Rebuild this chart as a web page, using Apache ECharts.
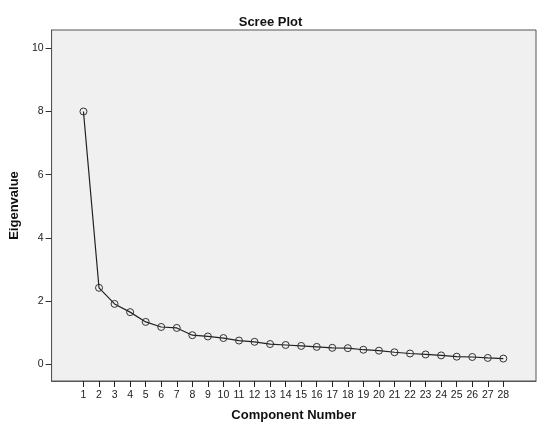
<!DOCTYPE html>
<html lang="en">
<head>
    <meta charset="UTF-8">
    <title>Scree Plot</title>
    <script src="https://cdn.jsdelivr.net/npm/echarts@6/dist/echarts.min.js"></script>
    <style>
        html, body { margin: 0; padding: 0; background: #fff; }
    </style>
</head>
<body>
<div id="main" style="width: 541px;height:433px;"></div>
<script type="text/javascript">
    // component numbers and eigenvalues
    var components = [1, 2, 3, 4, 5, 6, 7, 8, 9, 10, 11, 12, 13, 14,
        15, 16, 17, 18, 19, 20, 21, 22, 23, 24, 25, 26, 27, 28];
    var eigenvalues = [8.00, 2.42, 1.91, 1.65, 1.34, 1.18, 1.15, 0.92, 0.88, 0.83,
        0.75, 0.71, 0.64, 0.61, 0.58, 0.55, 0.52, 0.51, 0.46, 0.43,
        0.38, 0.34, 0.31, 0.28, 0.24, 0.23, 0.20, 0.18];
    var yTicks = [0, 2, 4, 6, 8, 10];

    var font = 'Liberation Sans, Arial, sans-serif';
    var yMin = -0.53, yMax = 10.58;

    var points = components.map(function (c, i) { return [c, eigenvalues[i]]; });

    var myChart = echarts.init(document.getElementById('main'));

    var option = {
        backgroundColor: '#ffffff',
        animation: false,
        title: {
            text: 'Scree Plot',
            left: 'center',
            top: 11,
            textStyle: { fontFamily: font, fontSize: 13, fontWeight: 'bold', color: '#111' }
        },
        grid: {
            left: 50, top: 30, right: 5, bottom: 52,
            show: true,
            backgroundColor: '#f0f0f0',
            borderColor: '#555',
            borderWidth: 1
        },
        xAxis: {
            type: 'value',
            min: -1.05,
            max: 30.1,
            name: 'Component Number',
            nameLocation: 'middle',
            nameGap: 28,
            nameTextStyle: { fontFamily: font, fontSize: 13, fontWeight: 'bold', color: '#111' },
            axisLine: { show: true, onZero: false, lineStyle: { color: '#555', width: 1 } },
            axisTick: { show: true, inside: false, length: 6, customValues: components,
                lineStyle: { color: '#222' } },
            axisLabel: { customValues: components, fontFamily: font, fontSize: 10.5,
                color: '#222', margin: 9 },
            splitLine: { show: false }
        },
        yAxis: {
            type: 'value',
            min: yMin,
            max: yMax,
            name: 'Eigenvalue',
            nameLocation: 'middle',
            nameGap: 29,
            nameRotate: 90,
            nameTextStyle: { fontFamily: font, fontSize: 13, fontWeight: 'bold', color: '#111' },
            axisLine: { show: true, onZero: false, lineStyle: { color: '#555', width: 1 } },
            axisTick: { show: true, inside: false, length: 6, customValues: yTicks,
                lineStyle: { color: '#333' } },
            axisLabel: { customValues: yTicks, fontFamily: font, fontSize: 10.5,
                color: '#222', margin: 8 },
            splitLine: { show: false }
        },
        series: [{
            type: 'line',
            data: points,
            symbol: 'circle',
            symbolSize: 7,
            itemStyle: { color: 'rgba(0,0,0,0)', borderColor: '#333', borderWidth: 1 },
            lineStyle: { color: '#222', width: 1.2 },
            emphasis: { disabled: true }
        }]
    };

    myChart.setOption(option);
</script>
</body>
</html>
